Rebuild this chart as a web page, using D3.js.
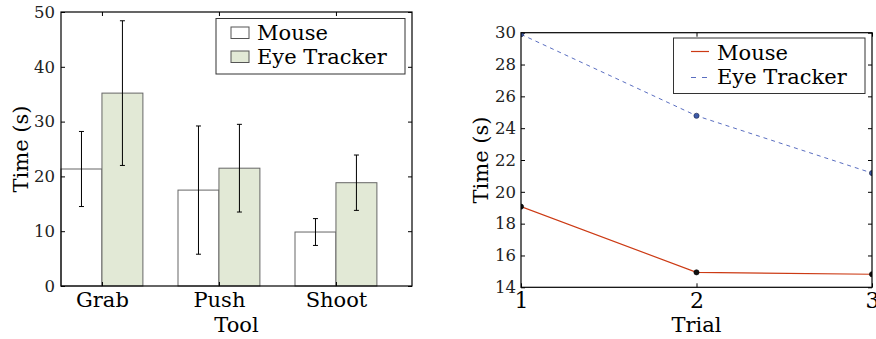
<!DOCTYPE html>
<html>
<head>
<meta charset="utf-8">
<script src="https://cdn.jsdelivr.net/npm/d3@7/dist/d3.min.js"></script>
<style>
  body { margin: 0; background: #fff; }
  svg { display: block; font-family: "DejaVu Serif", serif; }
  svg text { font-family: "DejaVu Serif", serif; }
</style>
</head>
<body>
<div id="vis"></div>
<script>
// Data
const tools = ['Grab', 'Push', 'Shoot'];
const mouseMean = [21.35, 17.5, 9.85];
const mouseErr = [6.85, 11.7, 2.45];
const eyeMean = [35.2, 21.5, 18.85];
const eyeErr = [13.2, 8.0, 5.05];
const barTicks = [0, 10, 20, 30, 40, 50];

const trials = [1, 2, 3];
const mouseTrial = [19.07, 14.94, 14.82];
const eyeTrial = [29.9, 24.78, 21.18];
const lineTicks = [14, 16, 18, 20, 22, 24, 26, 28, 30];

const series = ['Mouse', 'Eye Tracker'];
const width = 876;
const height = 339;
const barW = 0.35;
const tickLen = 4;
const serif = '"DejaVu Serif", serif';

let svg = d3.select('#vis')
    .append('svg')
    .attr('width', width)
    .attr('height', height);

// ---------- left: bar chart ----------
const m1 = {left: 61, right: 412, top: 12, bottom: 286};

let x1 = d3.scaleLinear().domain([0, 3]).range([m1.left, m1.right]);
let y1 = d3.scaleLinear().domain([0, 50]).range([m1.bottom, m1.top]);

let g1 = svg.append('g');

let bars = [];
tools.forEach((t, i) => {
    bars.push({x: i, v: mouseMean[i], e: mouseErr[i], fill: '#ffffff'});
    bars.push({x: i + barW, v: eyeMean[i], e: eyeErr[i], fill: '#e2e9d6'});
});

g1.selectAll('rect.bar')
    .data(bars)
    .join('rect')
    .attr('class', 'bar')
    .attr('x', d => x1(d.x))
    .attr('width', d => x1(d.x + barW) - x1(d.x))
    .attr('y', d => y1(d.v))
    .attr('height', d => y1(0) - y1(d.v))
    .attr('fill', d => d.fill)
    .attr('stroke', '#666')
    .attr('stroke-width', 1);

// error bars
let eb = g1.selectAll('g.err')
    .data(bars)
    .join('g')
    .attr('class', 'err')
    .attr('stroke', '#000')
    .attr('stroke-width', 1);

eb.append('line')
    .attr('x1', d => x1(d.x + barW / 2)).attr('x2', d => x1(d.x + barW / 2))
    .attr('y1', d => y1(d.v + d.e)).attr('y2', d => y1(d.v - d.e));
eb.append('line')
    .attr('x1', d => x1(d.x + barW / 2) - 2.5).attr('x2', d => x1(d.x + barW / 2) + 2.5)
    .attr('y1', d => y1(d.v + d.e)).attr('y2', d => y1(d.v + d.e));
eb.append('line')
    .attr('x1', d => x1(d.x + barW / 2) - 2.5).attr('x2', d => x1(d.x + barW / 2) + 2.5)
    .attr('y1', d => y1(d.v - d.e)).attr('y2', d => y1(d.v - d.e));

// axes with inward ticks on all four sides
const catPos = tools.map((t, i) => i + barW);

g1.append('g')
    .attr('transform', `translate(${m1.left},0)`)
    .call(d3.axisLeft(y1).tickValues(barTicks).tickSize(-tickLen).tickPadding(6))
    .call(g => g.select('.domain').remove())
    .call(g => g.attr('font-family', serif))
    .call(g => g.selectAll('text').attr('font-size', '16.5px').attr('fill', '#222'));

g1.append('g')
    .attr('transform', `translate(${m1.right},0)`)
    .call(d3.axisRight(y1).tickValues(barTicks).tickSize(-tickLen).tickFormat(''))
    .call(g => g.select('.domain').remove());

g1.append('g')
    .attr('transform', `translate(0,${m1.bottom})`)
    .call(d3.axisBottom(x1).tickValues(catPos).tickSize(-tickLen).tickPadding(6)
        .tickFormat((d, i) => tools[i]))
    .call(g => g.select('.domain').remove())
    .call(g => g.attr('font-family', serif))
    .call(g => g.selectAll('text').attr('font-size', '21px').attr('fill', '#000'));

g1.append('g')
    .attr('transform', `translate(0,${m1.top})`)
    .call(d3.axisTop(x1).tickValues(catPos).tickSize(-tickLen).tickFormat(''))
    .call(g => g.select('.domain').remove());

g1.append('rect')
    .attr('x', m1.left).attr('y', m1.top)
    .attr('width', m1.right - m1.left).attr('height', m1.bottom - m1.top)
    .attr('fill', 'none').attr('stroke', '#000').attr('stroke-width', 1.2);

g1.append('text')
    .attr('x', (m1.left + m1.right) / 2).attr('y', 332)
    .attr('text-anchor', 'middle').attr('font-size', '21px')
    .text('Tool');

g1.append('text')
    .attr('transform', `translate(28,${(m1.top + m1.bottom) / 2}) rotate(-90)`)
    .attr('text-anchor', 'middle').attr('font-size', '21px')
    .text('Time (s)');

// legend (bars)
let lg1 = g1.append('g');
lg1.append('rect')
    .attr('x', 216).attr('y', 18.5).attr('width', 189).attr('height', 55.5)
    .attr('fill', '#fff').attr('stroke', '#333').attr('stroke-width', 1);
lg1.selectAll('rect.patch')
    .data(series)
    .join('rect')
    .attr('class', 'patch')
    .attr('x', 231).attr('y', (d, i) => 27 + i * 24)
    .attr('width', 18).attr('height', 11.5)
    .attr('fill', (d, i) => i === 0 ? '#fff' : '#e2e9d6')
    .attr('stroke', '#555');
lg1.selectAll('text')
    .data(series)
    .join('text')
    .attr('x', 257).attr('y', (d, i) => 40 + i * 24)
    .attr('font-size', '21px')
    .text(d => d);

// ---------- right: line chart ----------
const m2 = {left: 521, right: 872, top: 32.7, bottom: 287.3};

let x2 = d3.scaleLinear().domain([1, 3]).range([m2.left, m2.right]);
let y2 = d3.scaleLinear().domain([14, 30]).range([m2.bottom, m2.top]);

let g2 = svg.append('g');

g2.append('defs').append('clipPath').attr('id', 'clip2')
    .append('rect')
    .attr('x', m2.left).attr('y', m2.top)
    .attr('width', m2.right - m2.left).attr('height', m2.bottom - m2.top);

g2.append('g')
    .attr('transform', `translate(${m2.left},0)`)
    .call(d3.axisLeft(y2).tickValues(lineTicks).tickSize(-tickLen).tickPadding(5))
    .call(g => g.select('.domain').remove())
    .call(g => g.attr('font-family', serif))
    .call(g => g.selectAll('text').attr('font-size', '16.5px').attr('fill', '#222'));

g2.append('g')
    .attr('transform', `translate(${m2.right},0)`)
    .call(d3.axisRight(y2).tickValues(lineTicks).tickSize(-tickLen).tickFormat(''))
    .call(g => g.select('.domain').remove());

g2.append('g')
    .attr('transform', `translate(0,${m2.bottom})`)
    .call(d3.axisBottom(x2).tickValues(trials).tickSize(-tickLen).tickPadding(5)
        .tickFormat(d3.format('d')))
    .call(g => g.select('.domain').remove())
    .call(g => g.attr('font-family', serif))
    .call(g => g.selectAll('text').attr('font-size', '22px').attr('fill', '#000'));

g2.append('g')
    .attr('transform', `translate(0,${m2.top})`)
    .call(d3.axisTop(x2).tickValues(trials).tickSize(-tickLen).tickFormat(''))
    .call(g => g.select('.domain').remove());

let line = d3.line()
    .x((d, i) => x2(trials[i]))
    .y(d => y2(d));

let plot = g2.append('g').attr('clip-path', 'url(#clip2)');

plot.append('path')
    .datum(eyeTrial)
    .attr('d', line)
    .attr('fill', 'none')
    .attr('stroke', '#5a6ec0')
    .attr('stroke-width', 1)
    .attr('stroke-dasharray', '4,4');

plot.append('path')
    .datum(mouseTrial)
    .attr('d', line)
    .attr('fill', 'none')
    .attr('stroke', '#cc3a14')
    .attr('stroke-width', 1.2);

plot.selectAll('circle.eye')
    .data(eyeTrial)
    .join('circle')
    .attr('class', 'eye')
    .attr('cx', (d, i) => x2(trials[i])).attr('cy', d => y2(d))
    .attr('r', 2.6)
    .attr('fill', '#3d5aa8').attr('stroke', '#1a2244').attr('stroke-width', 0.6);

plot.selectAll('circle.mouse')
    .data(mouseTrial)
    .join('circle')
    .attr('class', 'mouse')
    .attr('cx', (d, i) => x2(trials[i])).attr('cy', d => y2(d))
    .attr('r', 2.6)
    .attr('fill', '#111').attr('stroke', '#000').attr('stroke-width', 0.6);

g2.append('rect')
    .attr('x', m2.left).attr('y', m2.top)
    .attr('width', m2.right - m2.left).attr('height', m2.bottom - m2.top)
    .attr('fill', 'none').attr('stroke', '#000').attr('stroke-width', 1.2);

g2.append('text')
    .attr('x', (m2.left + m2.right) / 2).attr('y', 332)
    .attr('text-anchor', 'middle').attr('font-size', '21px')
    .text('Trial');

g2.append('text')
    .attr('transform', `translate(488,${(m2.top + m2.bottom) / 2}) rotate(-90)`)
    .attr('text-anchor', 'middle').attr('font-size', '21px')
    .text('Time (s)');

// legend (lines)
let lg2 = g2.append('g');
lg2.append('rect')
    .attr('x', 673.5).attr('y', 38).attr('width', 191.5).attr('height', 55.5)
    .attr('fill', '#fff').attr('stroke', '#333').attr('stroke-width', 1);
lg2.append('line')
    .attr('x1', 691).attr('x2', 709).attr('y1', 51.5).attr('y2', 51.5)
    .attr('stroke', '#cc3a14').attr('stroke-width', 1.2);
lg2.append('line')
    .attr('x1', 691).attr('x2', 709).attr('y1', 77.5).attr('y2', 77.5)
    .attr('stroke', '#5a6ec0').attr('stroke-width', 1).attr('stroke-dasharray', '5,6');
lg2.selectAll('text')
    .data(series)
    .join('text')
    .attr('x', 717).attr('y', (d, i) => 60 + i * 24)
    .attr('font-size', '21px')
    .text(d => d);
</script>
</body>
</html>
